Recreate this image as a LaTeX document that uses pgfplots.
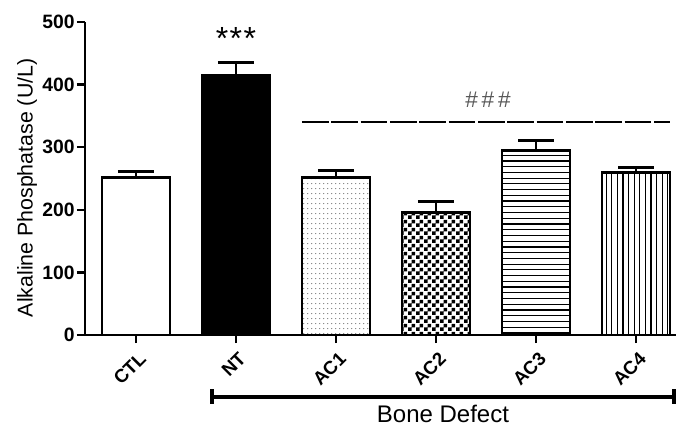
\documentclass[border=0pt]{standalone}
\usepackage{pgfplots}
\pgfplotsset{compat=1.18}
\usepackage{fontspec}
\setmainfont{Liberation Sans}
\usetikzlibrary{patterns}

\pgfdeclarepatternformonly{hlines}{\pgfpoint{-1pt}{-1pt}}{\pgfpoint{50pt}{4.3pt}}{\pgfpoint{50pt}{4.3pt}}{%
  \pgfsetlinewidth{0.9pt}\pgfpathmoveto{\pgfqpoint{-1pt}{1pt}}\pgfpathlineto{\pgfqpoint{50pt}{1pt}}\pgfusepath{stroke}}
\pgfdeclarepatternformonly{vlines}{\pgfpoint{-1pt}{-1pt}}{\pgfpoint{4.2pt}{50pt}}{\pgfpoint{4.2pt}{50pt}}{%
  \pgfsetlinewidth{0.9pt}\pgfpathmoveto{\pgfqpoint{1pt}{-1pt}}\pgfpathlineto{\pgfqpoint{1pt}{50pt}}\pgfusepath{stroke}}
\pgfdeclarepatternformonly{mycheck}{\pgfpointorigin}{\pgfqpoint{6pt}{6pt}}{\pgfqpoint{6pt}{6pt}}{%
  \pgfpathrectangle{\pgfpointorigin}{\pgfqpoint{3pt}{3pt}}%
  \pgfpathrectangle{\pgfqpoint{3pt}{3pt}}{\pgfqpoint{3pt}{3pt}}\pgfusepath{fill}}
\pgfdeclarepatternformonly{mydots}{\pgfpointorigin}{\pgfqpoint{3.2pt}{4pt}}{\pgfqpoint{3.2pt}{4pt}}{%
  \pgfpathcircle{\pgfqpoint{1.6pt}{2pt}}{0.45pt}\pgfusepath{fill}}

\begin{document}
\begin{tikzpicture}
\begin{axis}[
  scale only axis,
  width=443.25pt, height=234.75pt,
  xmin=-0.51, xmax=5.4,
  ymin=0, ymax=500,
  axis x line*=bottom, axis y line*=left,
  axis line style={line width=1.8pt, -},
  ytick={0,100,...,500},
  xtick={0,1,2,3,4,5},
  xticklabels={CTL,NT,AC1,AC2,AC3,AC4},
  tick style={black, line width=1.8pt},
  major tick length=6pt,
  tick align=outside,
  /pgf/number format/assume math mode=true,
  yticklabel style={font=\fontsize{14.5}{16}\selectfont\bfseries, inner sep=1.5pt},
  xticklabel style={font=\fontsize{14}{16}\selectfont\bfseries, rotate=45, anchor=north east, inner sep=3pt, yshift=-2pt},
  ylabel={Alkaline Phosphatase (U/L)},
  ylabel style={font=\fontsize{16}{18}\selectfont, at={(axis description cs:-0.098,0.47)}, anchor=center},
  clip=false,
  every axis plot/.append style={ybar, bar shift=0pt, bar width=0.68, draw=black, line width=2.2pt,
    error bars/y dir=plus, error bars/y explicit,
    error bars/error bar style={line width=2.2pt, black},
    error bars/error mark options={black, line width=2.2pt, mark size=13.5pt, rotate=90}},
]
\addplot[fill=white] coordinates {(0,251) +- (0,10)};
\addplot[fill=black] coordinates {(1,415) +- (0,20)};
\addplot[pattern=mydots, pattern color=black!80] coordinates {(2,251) +- (0,12)};
\addplot[pattern=mycheck, pattern color=black] coordinates {(3,195) +- (0,18)};
\addplot[pattern=hlines, pattern color=black] coordinates {(4,294) +- (0,16)};
\addplot[pattern=vlines, pattern color=black] coordinates {(5,259) +- (0,9)};

\node[font=\fontsize{24}{26}\selectfont, anchor=north, inner sep=0pt] at (axis cs:1,492) {*\kern1pt*\kern1pt*};
\draw[line width=1.6pt, dash pattern=on 20pt off 2pt] (axis cs:1.66,340) -- (axis cs:5.34,340);
\node[font=\fontsize{17}{19}\selectfont, text=black!65] at (axis cs:3.52,376) {\#\,\#\,\#};
\draw[line width=2.4pt] (axis cs:0.76,-99) -- (axis cs:5.38,-99);
\draw[line width=2.4pt] (axis cs:0.76,-87) -- (axis cs:0.76,-111);
\draw[line width=2.4pt] (axis cs:5.38,-87) -- (axis cs:5.38,-111);
\node[font=\fontsize{18}{20}\selectfont, inner sep=0pt] at (axis cs:3.07,-126) {Bone Defect};
\end{axis}
\pgfresetboundingbox
\path (-63.75pt,-68.25pt) rectangle (443.25pt,251.25pt);
\end{tikzpicture}
\end{document}
